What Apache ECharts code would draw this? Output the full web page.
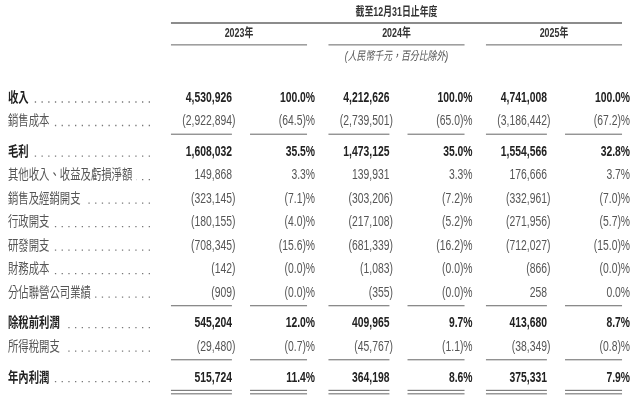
<!DOCTYPE html>
<html>
<head>
<meta charset="utf-8">
<script src="https://cdn.jsdelivr.net/npm/echarts@6/dist/echarts.min.js"></script>
<style>
  html, body { margin: 0; padding: 0; background: #fff; }
  #main { width: 640px; height: 401px; }
</style>
</head>
<body>
<div id="main"></div>
<script>
// ---- data ----
var years = ['2023年', '2024年', '2025年'];
var headerTitle = '截至12月31日止年度';
var unitNote = '(人民幣千元，百分比除外)';
var rowLabels = ['收入', '銷售成本', '毛利', '其他收入、收益及虧損淨額', '銷售及經銷開支', '行政開支',
    '研發開支', '財務成本', '分佔聯營公司業績', '除稅前利潤', '所得稅開支', '年內利潤'];
var amount2023 = [4530926, -2922894, 1608032, 149868, -323145, -180155, -708345, -142, -909, 545204, -29480, 515724];
var amount2024 = [4212626, -2739501, 1473125, 139931, -303206, -217108, -681339, -1083, -355, 409965, -45767, 364198];
var amount2025 = [4741008, -3186442, 1554566, 176666, -332961, -271956, -712027, -866, 258, 413680, -38349, 375331];
var pct2023 = [100.0, -64.5, 35.5, 3.3, -7.1, -4.0, -15.6, -0.0, -0.0, 12.0, -0.7, 11.4];
var pct2024 = [100.0, -65.0, 35.0, 3.3, -7.2, -5.2, -16.2, -0.0, -0.0, 9.7, -1.1, 8.6];
var pct2025 = [100.0, -67.2, 32.8, 3.7, -7.0, -5.7, -15.0, -0.0, 0.0, 8.7, -0.8, 7.9];
var boldRows = [0, 2, 9, 11];
var ruleAfter = [1, 8, 10];
var doubleRuleAfter = [11];

var amounts = [amount2023, amount2024, amount2025];
var pcts = [pct2023, pct2024, pct2025];

// ---- layout ----
var SX = 0.74;            // condensed type
var LABEL_X = 8;
var DOTS_END = 150;
var SEP_GAP = 0.3;        // extra row space after a rule
var HEAD = { title: -3.62, topRule: -3.19, years: -2.72, yearRule: -2.26, note: -1.74 };
var FONT = "'Liberation Sans', 'Noto Sans CJK TC', sans-serif";
var DARK = '#222', GREY = '#555', RULE = '#666';

var measureCtx = document.createElement('canvas').getContext('2d');
function textWidth(str, size, weight) {
    measureCtx.font = weight + ' ' + size + 'px ' + FONT;
    return measureCtx.measureText(str).width * SX;
}

function rowPos(i) {
    var n = 0;
    ruleAfter.concat(doubleRuleAfter).forEach(function (s) { if (s < i) n++; });
    return i + n * SEP_GAP;
}

function isNeg(v) { return v < 0 || Object.is(v, -0); }
function commas(v) { return String(Math.abs(v)).replace(/\B(?=(\d{3})+(?!\d))/g, ','); }
function fmtPct(v) {
    var s = Math.abs(v).toFixed(1);
    return isNeg(v) ? '(' + s + ')%' : s + '%';
}

function txt(x, y, str, opt) {
    return {
        type: 'text', x: x, y: y, scaleX: SX,
        style: {
            text: str, fill: opt.color || GREY,
            fontSize: opt.size || 14, fontWeight: opt.weight || 'normal',
            fontStyle: opt.style || 'normal', fontFamily: FONT,
            align: opt.align || 'left', verticalAlign: 'middle'
        }
    };
}
function rule(x1, x2, y, w) {
    return {
        type: 'line', shape: { x1: x1, y1: y, x2: x2, y2: y },
        style: { stroke: RULE, lineWidth: w || 1 }
    };
}

var bodyData = rowLabels.map(function (l, i) { return [0, rowPos(i)]; });

function renderRow(params, api) {
    var i = params.dataIndex;
    var yv = api.value(1);
    var y = api.coord([0, yv])[1];
    var bw = api.size([1, 0])[0];
    var unit = api.size([0, 1])[1];
    var bold = boldRows.indexOf(i) >= 0;
    var weight = bold ? 'bold' : 'normal';
    var color = bold ? DARK : GREY;
    var children = [];

    children.push(txt(LABEL_X, y, rowLabels[i], { color: color, weight: weight }));
    var labelEnd = LABEL_X + textWidth(rowLabels[i], 14, weight);
    children.push({
        type: 'line',
        shape: { x1: DOTS_END, y1: y + 4, x2: labelEnd + 4, y2: y + 4 },
        style: { stroke: '#777', lineWidth: 1.3, lineDash: [1.3, 5.4] }
    });

    for (var k = 0; k < years.length; k++) {
        var cx = api.coord([k, yv])[0];
        var ax = cx - 0.045 * bw;
        var v = amounts[k][i];
        if (isNeg(v)) {
            children.push(txt(ax, y, '(' + commas(v), { color: color, weight: weight, align: 'right' }));
            children.push(txt(ax, y, ')', { color: color, weight: weight, align: 'left' }));
        } else {
            children.push(txt(ax, y, commas(v), { color: color, weight: weight, align: 'right' }));
        }
        children.push(txt(cx + 0.483 * bw, y, fmtPct(pcts[k][i]), { color: color, weight: weight, align: 'right' }));

        var ly = y + 0.54 * unit;
        if (ruleAfter.indexOf(i) >= 0 || doubleRuleAfter.indexOf(i) >= 0) {
            children.push(rule(cx - 0.432 * bw, ax, ly));
            children.push(rule(cx + 0.07 * bw, cx + 0.432 * bw, ly));
        }
        if (doubleRuleAfter.indexOf(i) >= 0) {
            children.push(rule(cx - 0.432 * bw, ax, ly + 3.5));
            children.push(rule(cx + 0.07 * bw, cx + 0.432 * bw, ly + 3.5));
        }
    }
    return { type: 'group', children: children };
}

function renderHeader(params, api) {
    var bw = api.size([1, 0])[0];
    var children = [];
    var mid = api.coord([1, HEAD.title]);
    children.push(txt(mid[0], mid[1], headerTitle, { color: '#333', size: 12, weight: 'bold', align: 'center' }));
    var first = api.coord([0, HEAD.topRule]), last = api.coord([years.length - 1, HEAD.topRule]);
    children.push(rule(first[0] - 0.432 * bw, last[0] + 0.432 * bw, first[1], 1.5));
    years.forEach(function (yr, k) {
        var p = api.coord([k, HEAD.years]);
        children.push(txt(p[0], p[1], yr, { color: '#333', size: 12, weight: 'bold', align: 'center' }));
        var r = api.coord([k, HEAD.yearRule]);
        children.push(rule(r[0] - 0.432 * bw, r[0] + 0.432 * bw, r[1], 1));
    });
    var n = api.coord([1, HEAD.note]);
    children.push(txt(n[0], n[1], unitNote, { color: '#555', size: 12, style: 'italic', align: 'center' }));
    return { type: 'group', children: children };
}

var chart = echarts.init(document.getElementById('main'));
chart.setOption({
    backgroundColor: '#fff',
    animation: false,
    grid: { left: 160.25, width: 472.5, top: 4, height: 394.8 },
    xAxis: { type: 'category', data: years, show: false },
    yAxis: { type: 'value', min: -4, max: 12.8, inverse: true, show: false },
    series: [
        { type: 'custom', renderItem: renderHeader, data: [[0, 0]], silent: true, clip: false },
        { type: 'custom', renderItem: renderRow, data: bodyData, silent: true, clip: false }
    ]
});
</script>
</body>
</html>
